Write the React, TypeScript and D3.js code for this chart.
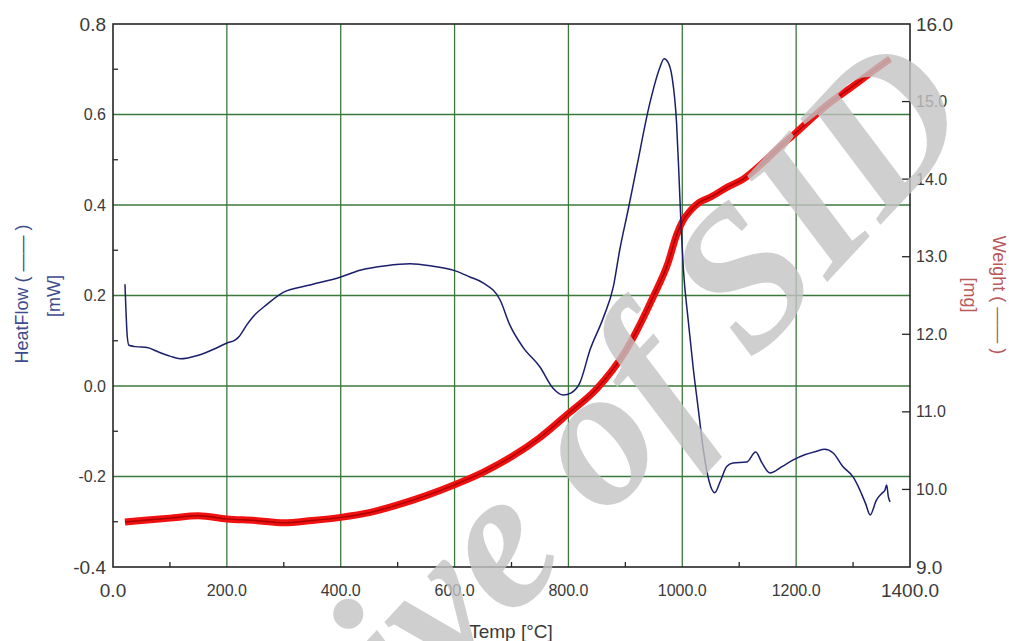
import React from 'react';
import * as d3 from 'd3';

// heat flow (left axis, mW)
const heatTemp = [21, 23, 25, 28, 40, 60, 80, 100, 118, 150, 180, 200, 215, 222, 235, 246, 270, 299, 346, 400, 434, 480, 522, 560, 600, 627, 650, 680, 697, 720, 750, 773, 791, 805, 820, 838, 861, 879, 890, 905, 920, 943, 961, 968, 975, 982, 990, 994, 998, 1002, 1010, 1019, 1028, 1037, 1047, 1057, 1067, 1078, 1089, 1113, 1129, 1140, 1154, 1175, 1194, 1215, 1236, 1250, 1265, 1282, 1300, 1312, 1322, 1330, 1341, 1350, 1356, 1359, 1362, 1365];
const heatFlow = [0.225, 0.16, 0.11, 0.09, 0.087, 0.085, 0.075, 0.066, 0.06, 0.068, 0.083, 0.095, 0.102, 0.11, 0.135, 0.153, 0.18, 0.207, 0.223, 0.241, 0.256, 0.266, 0.27, 0.265, 0.255, 0.241, 0.228, 0.19, 0.135, 0.086, 0.042, -0.005, -0.02, -0.015, 0.007, 0.08, 0.15, 0.22, 0.3, 0.39, 0.484, 0.625, 0.705, 0.723, 0.715, 0.683, 0.58, 0.47, 0.35, 0.257, 0.15, 0.042, -0.05, -0.141, -0.21, -0.236, -0.21, -0.178, -0.17, -0.168, -0.146, -0.17, -0.192, -0.178, -0.164, -0.152, -0.144, -0.14, -0.148, -0.178, -0.201, -0.23, -0.26, -0.285, -0.252, -0.238, -0.23, -0.219, -0.245, -0.256];

// weight (right axis, mg)
const weightTemp = [21, 50, 100, 150, 200, 250, 300, 350, 400, 450, 500, 550, 600, 650, 700, 750, 800, 850, 900, 950, 975, 990, 1000, 1015, 1030, 1050, 1080, 1107, 1140, 1166, 1200, 1250, 1300, 1340, 1365];
const weight = [9.58, 9.6, 9.63, 9.66, 9.62, 9.6, 9.57, 9.6, 9.64, 9.7, 9.8, 9.92, 10.06, 10.22, 10.42, 10.67, 10.98, 11.3, 11.78, 12.5, 12.92, 13.28, 13.45, 13.6, 13.7, 13.77, 13.9, 14.0, 14.2, 14.38, 14.6, 14.93, 15.2, 15.42, 15.55];

const xTicks = [0, 200, 400, 600, 800, 1000, 1200, 1400];
const xMinor = [100, 300, 500, 700, 900, 1100, 1300];
const leftTicks = [-0.4, -0.2, 0, 0.2, 0.4, 0.6, 0.8];
const leftMinor = [-0.3, -0.1, 0.1, 0.3, 0.5, 0.7];
const rightTicks = [9, 10, 11, 12, 13, 14, 15, 16];

const W = 1009;
const H = 641;
const font = '"Liberation Sans", Arial, sans-serif';

export default function App() {
  const x = d3.scaleLinear().domain([0, 1400]).range([113, 910]);
  const yL = d3.scaleLinear().domain([-0.4, 0.8]).range([567, 24]);
  const yR = d3.scaleLinear().domain([9, 16]).range([567, 24]);
  // plain hyphen for negatives, like the original software
  const fmt = (v: number) => d3.format('.1f')(v).replace('\u2212', '-');

  const heatLine = d3.line<number>()
    .x((d, i) => x(heatTemp[i]))
    .y(d => yL(d))
    .curve(d3.curveMonotoneX);
  const weightLine = d3.line<number>()
    .x((d, i) => x(weightTemp[i]))
    .y(d => yR(d))
    .curve(d3.curveMonotoneX);

  const [x0, x1] = x.range();
  const [y0, y1] = yL.range();
  const isEnd = (i, n) => i === 0 || i === n - 1;

  return (
    <svg width={W} height={H} style={{ display: 'block' }}>
      <style>{`body{margin:0}`}</style>
      <rect width={W} height={H} fill="#fff" />

      {/* grid */}
      {xTicks.slice(1, -1).map(t => (
        <line key={'gx' + t} x1={x(t)} x2={x(t)} y1={y0} y2={y1} stroke="#3b783b" strokeWidth={1.3} />
      ))}
      {leftTicks.slice(1, -1).map(t => (
        <line key={'gy' + t} x1={x0} x2={x1} y1={yL(t)} y2={yL(t)} stroke="#3b783b" strokeWidth={1.3} />
      ))}

      {/* frame */}
      <rect x={x0} y={y1} width={x1 - x0} height={y0 - y1} fill="none" stroke="#262626" strokeWidth={1.6} />

      {/* minor / inward ticks */}
      {xMinor.map(t => (
        <line key={'mx' + t} x1={x(t)} x2={x(t)} y1={y0} y2={y0 - 5} stroke="#262626" strokeWidth={1.3} />
      ))}
      {leftMinor.map(t => (
        <line key={'ml' + t} x1={x0} x2={x0 + 5} y1={yL(t)} y2={yL(t)} stroke="#262626" strokeWidth={1.3} />
      ))}
      {rightTicks.slice(1, -1).map(t => (
        <line key={'mr' + t} x1={x1 - 8} x2={x1} y1={yR(t)} y2={yR(t)} stroke="#262626" strokeWidth={1.3} />
      ))}

      {/* tick labels */}
      <g fontFamily={font} fill="#3a3a3a">
        {xTicks.map((t, i) => (
          <text key={'lx' + t} x={x(t)} y={590} textAnchor="middle" dominantBaseline="central"
            fontSize={isEnd(i, xTicks.length) ? 19 : 16}>{fmt(t)}</text>
        ))}
        {leftTicks.map((t, i) => (
          <text key={'ll' + t} x={106} y={yL(t)} textAnchor="end" dominantBaseline="central"
            fontSize={isEnd(i, leftTicks.length) ? 19 : 16}>{fmt(t)}</text>
        ))}
        {rightTicks.map((t, i) => (
          <text key={'lr' + t} x={916} y={yR(t)} textAnchor="start" dominantBaseline="central"
            fontSize={isEnd(i, rightTicks.length) ? 19 : 16}>{fmt(t)}</text>
        ))}
        <text x={511} y={631} textAnchor="middle" dominantBaseline="central" fontSize={19}>Temp [°C]</text>
      </g>

      {/* axis titles */}
      <g fontFamily={font} fontSize={18}>
        <text transform="translate(22,294) rotate(-90)" textAnchor="middle" dominantBaseline="central" fill="#3d4c8c">HeatFlow ( —— )</text>
        <text transform="translate(54,296) rotate(-90)" textAnchor="middle" dominantBaseline="central" fill="#3d4c8c">[mW]</text>
        <text transform="translate(999,295) rotate(90)" textAnchor="middle" dominantBaseline="central" fill="#b85a5a">Weight ( —— )</text>
        <text transform="translate(970,295) rotate(90)" textAnchor="middle" dominantBaseline="central" fill="#b85a5a">[mg]</text>
      </g>

      {/* curves */}
      <path d={weightLine(weight) ?? ''} fill="none" stroke="#f01010" strokeWidth={7} strokeLinejoin="round" />
      <path d={weightLine(weight) ?? ''} fill="none" stroke="#a80000" strokeWidth={1.4} strokeLinejoin="round" />
      <path d={heatLine(heatFlow) ?? ''} fill="none" stroke="#1b1f6b" strokeWidth={1.5} strokeLinejoin="round" />

      {/* watermark */}
      <text transform="translate(980,118) rotate(-47)" textAnchor="end"
        fontFamily='"Liberation Serif", "Times New Roman", serif' fontWeight="bold" fontStyle="italic"
        fontSize={200} fill="#c4c4c4" opacity={0.8}>Archive of SID</text>
    </svg>
  );
}
